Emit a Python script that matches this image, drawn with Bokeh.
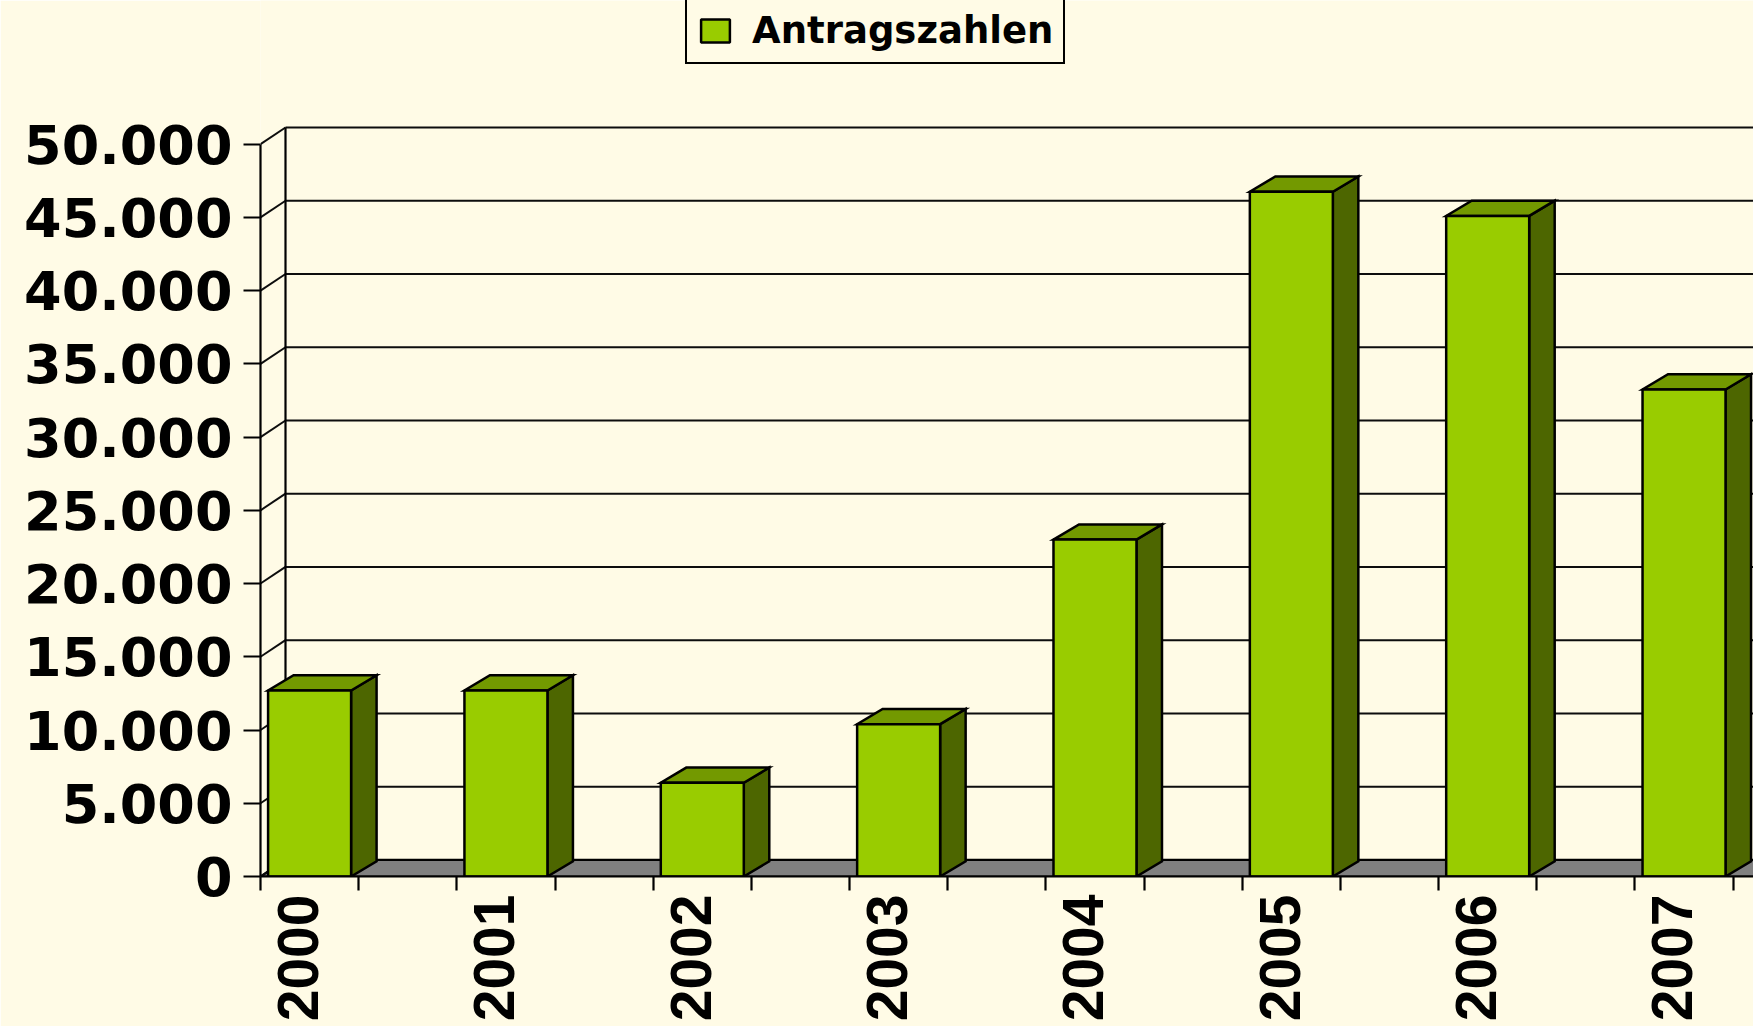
import math
import numpy as np
from bokeh.plotting import figure
from bokeh.models import LinearAxis, FixedTicker, Range1d, Legend, LegendItem
from bokeh.embed import file_html
from bokeh.resources import INLINE

# ---------------- data ----------------
years = ["2000", "2001", "2002", "2003", "2004", "2005", "2006", "2007"]
antragszahlen = [12700, 12700, 6400, 10400, 23000, 46750, 45100, 33250]
series_name = "Antragszahlen"
y_ticks = [0, 5000, 10000, 15000, 20000, 25000, 30000, 35000, 40000, 45000, 50000]
y_tick_labels = ["0", "5.000", "10.000", "15.000", "20.000", "25.000",
                 "30.000", "35.000", "40.000", "45.000", "50.000"]

# ---------------- layout / style ----------------
BG = "#FFFBE6"
W, H = 1753, 1026
LEFT, BOTTOM = 260, 150
PX_PER_CAT = 196.35            # pixels per category
PX_PER_VAL = 73.24 / 5000.0    # pixels per unit value
x_end = (W - LEFT) / PX_PER_CAT
y_end = (H - BOTTOM) / PX_PER_VAL

# 3D offsets (data units)
wdx = 25.0 / PX_PER_CAT
wdy = 16.6 / PX_PER_VAL
bdx = 25.5 / PX_PER_CAT
bdy = 15.2 / PX_PER_VAL
BW = 83.0 / PX_PER_CAT

p = figure(width=W, height=H, x_range=Range1d(0, x_end), y_range=Range1d(0, y_end),
           output_backend="svg", toolbar_location=None,
           min_border_left=LEFT, min_border_bottom=BOTTOM, min_border_top=0, min_border_right=0,
           x_axis_type=None, y_axis_type=None,
           background_fill_color=BG, border_fill_color=BG, outline_line_color=None)

top_val = y_ticks[-1]
XR = x_end + 1.0

# floor
p.patch([0, XR, XR + wdx, wdx], [0, 0, wdy, wdy], fill_color="#808080",
        line_color="black", line_width=2.2)

# back wall gridlines
gx0, gx1, gy = [], [], []
for v in y_ticks[1:]:
    gx0.append(wdx); gx1.append(XR); gy.append(v + wdy)
p.segment(x0=gx0, y0=gy, x1=gx1, y1=gy, line_color="#0d0d0d", line_width=2)

# side wall diagonals
sv = np.array(y_ticks, float)
p.segment(x0=np.zeros_like(sv), y0=sv, x1=np.full_like(sv, wdx), y1=sv + wdy,
          line_color="#0d0d0d", line_width=2)
# back wall left edge
p.segment(x0=[wdx], y0=[wdy], x1=[wdx], y1=[top_val + wdy], line_color="black", line_width=2.2)

# bars
n = len(years)
vals = np.array(antragszahlen, float)
xc = np.arange(n) + 0.25
L = xc - BW / 2
R = xc + BW / 2

side_xs = [[r, r + bdx, r + bdx, r] for r in R]
side_ys = [[0, bdy, v + bdy, v] for v in vals]
p.patches(side_xs, side_ys, fill_color="#4D6600", line_color="black", line_width=2.5,
          line_join="miter")

top_xs = [[l, r, r + bdx, l + bdx] for l, r in zip(L, R)]
top_ys = [[v, v, v + bdy, v + bdy] for v in vals]
p.patches(top_xs, top_ys, fill_color="#739900", line_color="black", line_width=2.5,
          line_join="miter")

front = p.quad(left=L, right=R, bottom=0, top=vals, fill_color="#99CC00",
               line_color="black", line_width=2.5)

# y axis
yax = LinearAxis(ticker=FixedTicker(ticks=y_ticks, minor_ticks=[]), bounds=(0, top_val),
                 major_label_overrides={t: lab for t, lab in zip(y_ticks, y_tick_labels)},
                 major_tick_out=17, major_tick_in=0, minor_tick_out=0, minor_tick_in=0,
                 axis_line_width=2.2, axis_line_color="black",
                 major_tick_line_width=2.2, major_tick_line_color="black",
                 major_label_standoff=11,
                 major_label_text_font="DejaVu Sans", major_label_text_font_style="bold",
                 major_label_text_font_size="54px", major_label_text_color="black")
p.add_layout(yax, "left")

# x axis
label_pos = [round(i + 0.19, 4) for i in range(n)]
cat_edges = [i * 0.5 for i in range(0, 2 * n + 1)]
xax = LinearAxis(ticker=FixedTicker(ticks=label_pos, minor_ticks=cat_edges), bounds=(0, x_end),
                 major_label_overrides={pos: yr for pos, yr in zip(label_pos, years)},
                 major_tick_out=0, major_tick_in=0, major_tick_line_color=None,
                 minor_tick_out=14, minor_tick_in=0, minor_tick_line_width=2.2,
                 minor_tick_line_color="black",
                 axis_line_width=2.2, axis_line_color="black",
                 major_label_orientation=math.pi / 2, major_label_standoff=4,
                 major_label_text_font="Liberation Sans", major_label_text_font_style="bold",
                 major_label_text_font_size="57px", major_label_text_color="black")
p.add_layout(xax, "below")

# legend
legend = Legend(items=[LegendItem(label=series_name, renderers=[front])],
                location=(425, 812), orientation="vertical",
                border_line_color="black", border_line_width=2.2, border_line_alpha=1,
                background_fill_color=BG, background_fill_alpha=1,
                label_text_font="DejaVu Sans", label_text_font_style="bold",
                label_text_font_size="37px", label_text_color="black",
                glyph_width=36, glyph_height=29, label_standoff=19,
                padding=10, margin=0, spacing=0)
p.add_layout(legend, "center")

html = file_html(p, INLINE)
html = html.replace("<body>", '<body style="background-color:%s;">' % BG, 1)
open("out.html", "w").write(html)
